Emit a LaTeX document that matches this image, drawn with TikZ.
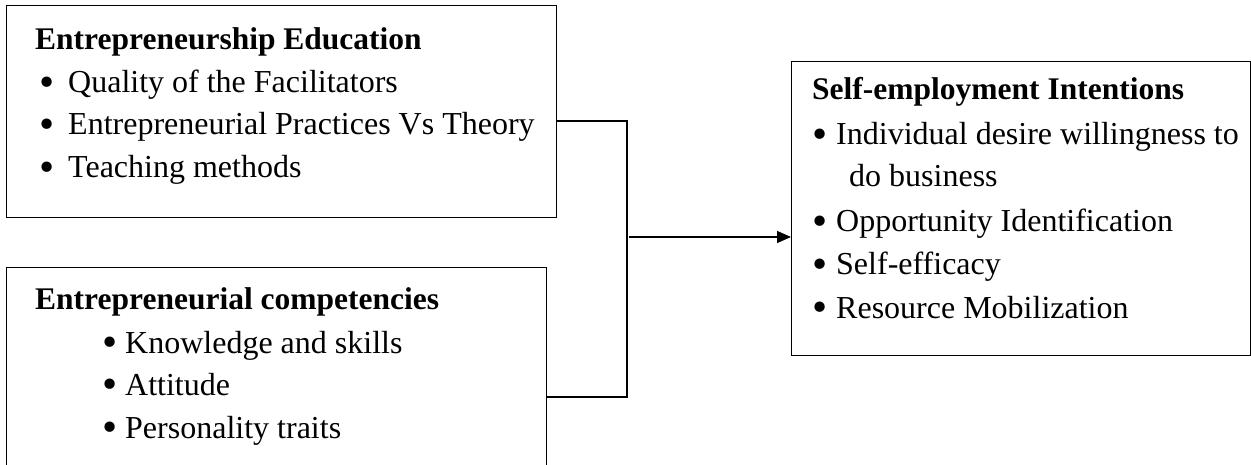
\documentclass[tikz,border=0pt]{standalone}
\usepackage{fontspec}
\setmainfont{Liberation Serif}
\usetikzlibrary{arrows.meta}
\newcommand{\bigbul}{\raisebox{-3.6pt}{\scalebox{1.35}{•}}}
\begin{document}
\begin{tikzpicture}[x=1pt,y=-1pt,
  box/.style={draw,line width=1.2pt,anchor=north west,inner sep=0pt},
  ln/.style={anchor=base west,inner sep=0pt,font=\fontsize{32}{38}\selectfont},
  hd/.style={ln,font=\fontsize{31.5}{38}\selectfont\bfseries},
  conn/.style={line width=1.2pt}]
\useasboundingbox (0,0) rectangle (1251,465);
\clip (0,0) rectangle (1251,465);
% boxes
\node[box,minimum width=550pt,minimum height=212pt] (b1) at (6,5) {};
\node[box,minimum width=540pt,minimum height=230pt] (b2) at (6,267) {};
\node[box,minimum width=459pt,minimum height=294pt] (b3) at (791,61) {};
% box 1 text
\node[hd] (t1) at (35,50) {Entrepreneurship Education};
\node[ln] (t1a) at (39,93) {\makebox[29pt][l]{\bigbul}Quality of the Facilitators};
\node[ln] (t1b) at (39,135) {\makebox[29pt][l]{\bigbul}Entrepreneurial Practices Vs Theory};
\node[ln] (t1c) at (39,178) {\makebox[29pt][l]{\bigbul}Teaching methods};
% box 2 text
\node[hd] (t2) at (35,309) {Entrepreneurial competencies};
\node[ln] (t2a) at (102,353) {\makebox[23pt][l]{\bigbul}Knowledge and skills};
\node[ln] (t2b) at (102,395) {\makebox[23pt][l]{\bigbul}Attitude};
\node[ln] (t2c) at (102,438) {\makebox[23pt][l]{\bigbul}Personality traits};
% box 3 text
\node[hd] (t3) at (812,100) {Self-employment Intentions};
\node[ln] (t3a) at (812,145) {\makebox[24pt][l]{\bigbul}Individual desire willingness to};
\node[ln] (t3b) at (849,187) {do business};
\node[ln] (t3c) at (812,232) {\makebox[24pt][l]{\bigbul}Opportunity Identification};
\node[ln] (t3d) at (812,275) {\makebox[24pt][l]{\bigbul}Self-efficacy};
\node[ln] (t3e) at (812,318) {\makebox[24pt][l]{\bigbul}Resource Mobilization};
% connectors
\coordinate (j1) at (627,121);
\coordinate (j2) at (627,397);
\coordinate (a0) at (629,237);
\draw[conn] (b1.east |- j1) -- (j1) -- (j2) -- (b2.east |- j2);
\draw[conn,-{Triangle[length=14pt,width=12pt]}] (a0) -- (b3.west |- a0);
\end{tikzpicture}
\end{document}
